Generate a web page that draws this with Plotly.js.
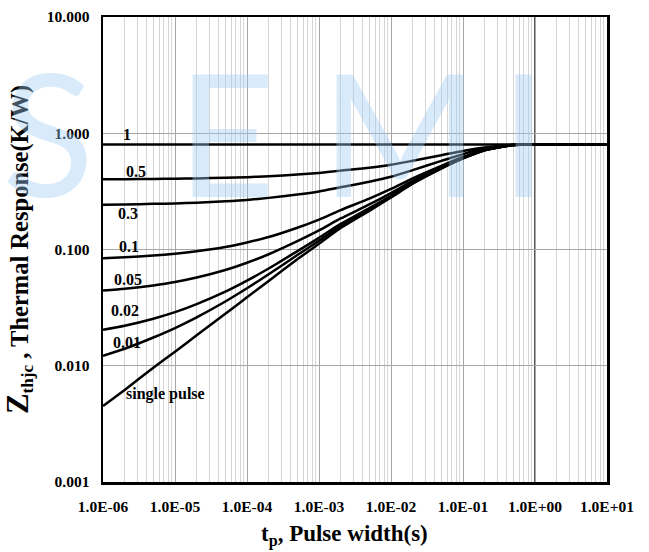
<!DOCTYPE html>
<html>
<head>
<meta charset="utf-8">
<script src="https://cdn.plot.ly/plotly-3.0.1.min.js"></script>
<style>html,body{margin:0;padding:0;background:#fff;} #chart{width:649px;height:552px;}</style>
</head>
<body>
<div id="chart"></div>
<script>
// Pulse width (s)
const tp = [1e-6, 2e-6, 5e-6, 1e-5, 2e-5, 5e-5, 1e-4, 2e-4, 5e-4, 1e-3, 2e-3, 5e-3, 1e-2, 2e-2, 5e-2, 0.1, 0.2, 0.5, 1, 10];
// Thermal response Zthjc (K/W) per duty cycle
const zD1    = [0.8, 0.8, 0.8, 0.8, 0.8, 0.8, 0.8, 0.8, 0.8, 0.8, 0.8, 0.8, 0.8, 0.8, 0.8, 0.8, 0.8, 0.8, 0.8, 0.8];
const zD05   = [0.402, 0.403, 0.405, 0.407, 0.409, 0.414, 0.419, 0.427, 0.441, 0.456, 0.477, 0.505, 0.535, 0.58, 0.648, 0.705, 0.755, 0.795, 0.8, 0.8];
const zD03   = [0.243, 0.244, 0.247, 0.249, 0.253, 0.26, 0.267, 0.278, 0.297, 0.316, 0.343, 0.382, 0.422, 0.482, 0.578, 0.662, 0.738, 0.794, 0.8, 0.8];
const zD01   = [0.084, 0.0856, 0.0886, 0.0919, 0.0965, 0.105, 0.115, 0.128, 0.154, 0.181, 0.218, 0.274, 0.332, 0.41, 0.525, 0.625, 0.722, 0.793, 0.8, 0.8];
const zD005  = [0.0443, 0.0459, 0.0491, 0.0525, 0.0574, 0.0666, 0.0769, 0.091, 0.118, 0.146, 0.185, 0.244, 0.306, 0.39, 0.512, 0.617, 0.718, 0.793, 0.8, 0.8];
const zD002  = [0.0204, 0.0221, 0.0254, 0.0289, 0.0339, 0.0434, 0.054, 0.0686, 0.0968, 0.126, 0.166, 0.227, 0.29, 0.377, 0.503, 0.611, 0.716, 0.793, 0.8, 0.8];
const zD001  = [0.0122, 0.014, 0.0175, 0.0211, 0.0261, 0.0357, 0.0464, 0.0612, 0.0896, 0.119, 0.159, 0.221, 0.285, 0.372, 0.5, 0.609, 0.715, 0.793, 0.8, 0.8];
const zSingle= [0.0045, 0.0062, 0.0096, 0.0132, 0.0183, 0.028, 0.0388, 0.0537, 0.0824, 0.112, 0.153, 0.215, 0.28, 0.368, 0.497, 0.607, 0.714, 0.793, 0.8, 0.8];

const seriesNames = ['1', '0.5', '0.3', '0.1', '0.05', '0.02', '0.01', 'single pulse'];
const seriesData = [zD1, zD05, zD03, zD01, zD005, zD002, zD001, zSingle];

// Curve labels: text and anchor position (t, Z)
const labelText = ['1', '0.5', '0.3', '0.1', '0.05', '0.02', '0.01', 'single pulse'];
const labelT = [2.15e-6, 2.87e-6, 2.2e-6, 2.3e-6, 2.2e-6, 2.02e-6, 2.15e-6, 7.3e-6];
const labelZ = [0.985, 0.473, 0.206, 0.107, 0.0547, 0.0296, 0.016, 0.0057];

// Tick values and labels
const xTickVals = [1e-6, 1e-5, 1e-4, 1e-3, 1e-2, 1e-1, 1, 10];
const xTickText = ['1.0E-06', '1.0E-05', '1.0E-04', '1.0E-03', '1.0E-02', '1.0E-01', '1.0E+00', '1.0E+01'];
const yTickVals = [0.001, 0.01, 0.1, 1, 10];
const yTickText = ['0.001', '0.010', '0.100', '1.000', '10.000'];

// Watermark letters (faint background logo)
const wmLetters = ['S', 'E', 'M', 'I'];
const wmX = [-0.11, 0.245, 0.59, 0.835];

const FONT = 'Liberation Serif, Times New Roman, serif';

const traces = seriesData.map((z, i) => ({
  x: tp, y: z, type: 'scatter', mode: 'lines', name: seriesNames[i],
  line: {color: '#000000', width: 2.5, shape: 'spline', smoothing: 0.6},
  showlegend: false, hoverinfo: 'skip'
}));

const annotations = [];
wmLetters.forEach((ch, i) => annotations.push({
  x: wmX[i], y: 0.755, xref: 'paper', yref: 'paper', xanchor: 'center', yanchor: 'middle',
  text: ch, showarrow: false,
  font: {family: 'Lato, Open Sans, sans-serif', size: 170, color: 'rgba(160,205,245,0.40)'}
}));
labelText.forEach((t, i) => annotations.push({
  x: Math.log10(labelT[i]), y: Math.log10(labelZ[i]), xref: 'x', yref: 'y',
  text: '<b>' + t + '</b>', showarrow: false,
  font: {family: FONT, size: 16, color: '#000'}
}));
// x-axis title
annotations.push({
  x: 0.48, y: -0.115, xref: 'paper', yref: 'paper', xanchor: 'center', yanchor: 'middle',
  text: '<b>t<sub>p</sub>, Pulse width(s)</b>', showarrow: false,
  font: {family: FONT, size: 23, color: '#000'}
});

const layout = {
  width: 649, height: 552,
  margin: {l: 103, r: 42, t: 17, b: 70},
  paper_bgcolor: '#ffffff', plot_bgcolor: '#ffffff',
  showlegend: false,
  xaxis: {
    type: 'log', range: [-6, 1], autorange: false,
    tickmode: 'array', tickvals: xTickVals, ticktext: xTickText,
    ticks: 'outside', ticklen: 9, tickcolor: 'rgba(0,0,0,0)',
    tickfont: {family: FONT, size: 15.5, color: '#000', weight: 'bold'},
    showgrid: true, gridcolor: '#a6a6a6', gridwidth: 1,
    minor: {dtick: 'D1', showgrid: true, gridcolor: '#d4d4d4', gridwidth: 1, ticks: ''},
    showline: true, linecolor: '#000', linewidth: 2.5, mirror: true,
    zeroline: false
  },
  yaxis: {
    type: 'log', range: [-3, 1], autorange: false,
    tickmode: 'array', tickvals: yTickVals, ticktext: yTickText,
    ticks: 'outside', ticklen: 8, tickcolor: 'rgba(0,0,0,0)',
    tickfont: {family: FONT, size: 15.5, color: '#000', weight: 'bold'},
    showgrid: true, gridcolor: '#a6a6a6', gridwidth: 1,
    showline: true, linecolor: '#000', linewidth: 2.5, mirror: true,
    zeroline: false,
    title: {text: '<b><span style="font-size:31px">Z</span><sub>thjc</sub> , Thermal Response(K/W)</b>', font: {family: FONT, size: 24.5, color: '#000'}, standoff: 12}
  },
  shapes: [{
    type: 'line', xref: 'x', yref: 'paper', x0: 1, x1: 1, y0: 0, y1: 1,
    line: {color: '#000', width: 1.3}, layer: 'below'
  }],
  annotations: annotations
};

Plotly.newPlot('chart', traces, layout, {staticPlot: true, displayModeBar: false});
</script>
</body>
</html>
